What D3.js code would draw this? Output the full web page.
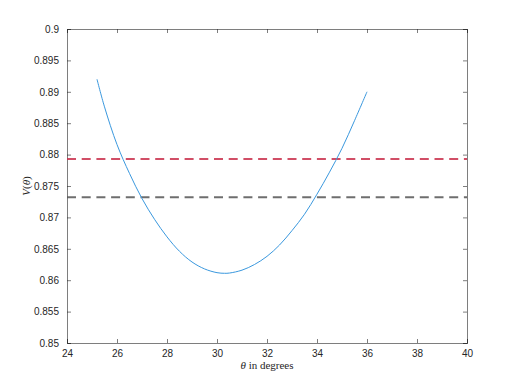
<!DOCTYPE html>
<html>
<head>
<meta charset="utf-8">
<script src="https://cdn.jsdelivr.net/npm/d3@7"></script>
<style>
  body { margin: 0; background: #fff; }
  .tick text { font-family: "Liberation Sans", Arial, sans-serif; font-size: 10px; fill: #262626; }
</style>
</head>
<body>
<div id="wrapper"></div>
<script>
// values
const theta = [25.2, 25.5, 26, 26.5, 27, 27.5, 28, 28.5, 29, 29.5, 30, 30.3, 30.5, 31, 31.5, 32, 32.5, 33, 33.5, 34, 34.5, 35, 35.5, 36];
const vals = [0.8920, 0.8876, 0.8816, 0.8770, 0.8730, 0.8697, 0.8669, 0.8646, 0.8629, 0.8618, 0.8612, 0.8611, 0.86114, 0.8616, 0.8625, 0.8638, 0.8656, 0.8679, 0.8705, 0.8737, 0.8772, 0.8810, 0.8854, 0.8900];
const redLevel = 0.8793;
const grayLevel = 0.8732;
const xTicks = [24, 26, 28, 30, 32, 34, 36, 38, 40];
const yTicks = [0.85, 0.855, 0.86, 0.865, 0.87, 0.875, 0.88, 0.885, 0.89, 0.895, 0.9];

const width = 515, height = 386;
const margin = {top: 29, right: 48, bottom: 43, left: 67};
const innerW = width - margin.left - margin.right;
const innerH = height - margin.top - margin.bottom;

const svg = d3.select('#wrapper').append('svg')
  .attr('width', width).attr('height', height);

const g = svg.append('g').attr('transform', `translate(${margin.left},${margin.top})`);

const x = d3.scaleLinear().domain([24, 40]).range([0, innerW]);
const y = d3.scaleLinear().domain([0.85, 0.9]).range([innerH, 0]);

const fmtY = d => d3.format('')(+d.toFixed(3));
const tl = 4;

// axes (box on, ticks inside)
const axB = g.append('g').attr('transform', `translate(0,${innerH})`)
  .call(d3.axisBottom(x).tickValues(xTicks).tickSize(-tl).tickPadding(7));
const axL = g.append('g')
  .call(d3.axisLeft(y).tickValues(yTicks).tickSize(-tl).tickPadding(8).tickFormat(fmtY));
const axT = g.append('g')
  .call(d3.axisTop(x).tickValues(xTicks).tickSize(-tl).tickFormat(''));
const axR = g.append('g').attr('transform', `translate(${innerW},0)`)
  .call(d3.axisRight(y).tickValues(yTicks).tickSize(-tl).tickFormat(''));

[axB, axL, axT, axR].forEach(a => {
  a.selectAll('.domain').attr('stroke', '#262626').attr('stroke-width', 0.6);
  a.selectAll('.tick line').attr('stroke', '#262626').attr('stroke-width', 0.6);
});

// horizontal dashed reference lines
const hlines = [{v: redLevel, c: '#c9304c'}, {v: grayLevel, c: '#555555'}];
g.selectAll('.ref').data(hlines).enter().append('line')
  .attr('class', 'ref')
  .attr('x1', x(24)).attr('x2', x(40))
  .attr('y1', d => y(d.v)).attr('y2', d => y(d.v))
  .attr('stroke', d => d.c)
  .attr('stroke-width', 2)
  .attr('stroke-dasharray', '9,5.7')
  .attr('opacity', 0.85);

// curve
const line = d3.line()
  .x((d, i) => x(theta[i]))
  .y(d => y(d))
  .curve(d3.curveCatmullRom);

g.append('path')
  .datum(vals)
  .attr('d', line)
  .attr('fill', 'none')
  .attr('stroke', '#3a98de')
  .attr('stroke-width', 1);

// labels
svg.append('text')
  .attr('x', margin.left + innerW / 2).attr('y', 369)
  .attr('text-anchor', 'middle')
  .style('font-family', '"Liberation Serif", "Times New Roman", serif')
  .style('font-size', '11px')
  .attr('fill', '#262626')
  .html('<tspan font-style="italic">θ</tspan> in degrees');

svg.append('text')
  .attr('transform', `translate(30,${margin.top + innerH / 2}) rotate(-90)`)
  .attr('text-anchor', 'middle')
  .style('font-family', '"Liberation Serif", "Times New Roman", serif')
  .style('font-size', '11px')
  .attr('fill', '#262626')
  .html('<tspan font-style="italic">V</tspan>(<tspan font-style="italic">θ</tspan>)');
</script>
</body>
</html>
